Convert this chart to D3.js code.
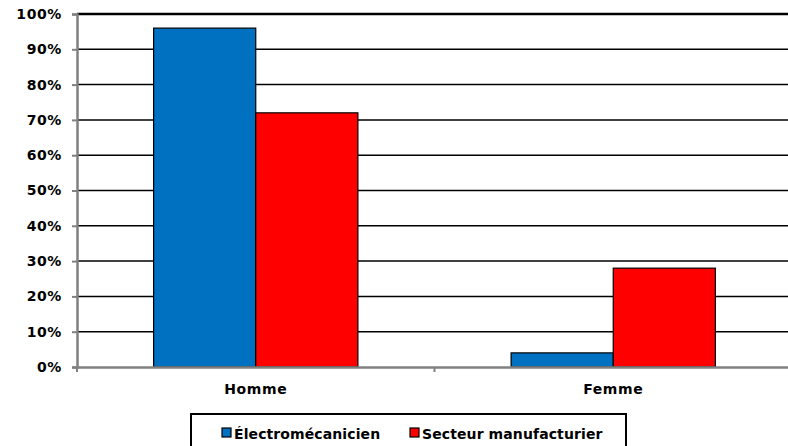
<!DOCTYPE html>
<html>
<head>
<meta charset="utf-8">
<script src="https://cdn.jsdelivr.net/npm/d3@7"></script>
<style>
  body { margin: 0; background: #fff; }
  text { font-family: "DejaVu Sans", Verdana, sans-serif; font-weight: bold; fill: #000; }
</style>
</head>
<body>
<svg id="chart" width="788" height="446"></svg>
<script>
// data
const categories = ["Homme", "Femme"];
const seriesNames = ["Électromécanicien", "Secteur manufacturier"];
const electromecanicien = [0.96, 0.04];
const secteurManufacturier = [0.72, 0.28];
const yTicks = [0, 0.1, 0.2, 0.3, 0.4, 0.5, 0.6, 0.7, 0.8, 0.9, 1.0];
const colors = ["#0070c0", "#ff0000"];

const svg = d3.select("#chart");
const margin = { top: 14, left: 77, right: -4, bottom: 79 };
const width = 788, height = 446;

const x = d3.scaleBand().domain(categories)
  .range([margin.left, width - margin.right]).paddingInner(0).paddingOuter(0);
const xs = d3.scaleBand().domain(seriesNames)
  .range([0, x.bandwidth()]).paddingInner(0).paddingOuter(0.75);
const y = d3.scaleLinear().domain([0, 1]).range([height - margin.bottom, margin.top]);

// gridlines
svg.append("g").selectAll("line")
  .data(yTicks.filter(d => d > 0))
  .enter().append("line")
  .attr("x1", margin.left).attr("x2", width)
  .attr("y1", d => y(d)).attr("y2", d => y(d))
  .attr("stroke", "#000")
  .attr("stroke-width", d => d === 1 ? 2.5 : 1.5);

// bars
const rows = categories.map((c, i) => ({
  cat: c,
  vals: [electromecanicien[i], secteurManufacturier[i]]
}));
const grp = svg.append("g").selectAll("g")
  .data(rows).enter().append("g")
  .attr("transform", d => `translate(${x(d.cat)},0)`);
grp.selectAll("rect")
  .data(d => d.vals.map((v, j) => ({ name: seriesNames[j], v, j })))
  .enter().append("rect")
  .attr("x", d => xs(d.name))
  .attr("width", xs.bandwidth())
  .attr("y", d => y(d.v))
  .attr("height", d => y(0) - y(d.v))
  .attr("fill", d => colors[d.j])
  .attr("stroke", "#000")
  .attr("stroke-width", 1.2);

// y axis
const yAxis = svg.append("g")
  .attr("transform", `translate(${margin.left},0)`)
  .call(d3.axisLeft(y).tickValues(yTicks).tickFormat(d3.format(".0%")).tickSize(5).tickPadding(10));
yAxis.select(".domain").attr("stroke", "#808080").attr("stroke-width", 2.5);
yAxis.selectAll(".tick line").attr("stroke", "#808080").attr("stroke-width", 2);
yAxis.selectAll("text").style("font-size", "14px").style("letter-spacing", "0.6px").attr("fill", "#000");

// x axis
const xAxis = svg.append("g")
  .attr("transform", `translate(0,${y(0)})`)
  .call(d3.axisBottom(x).tickSize(0).tickPadding(17));
xAxis.select(".domain").attr("stroke", "#808080").attr("stroke-width", 2.5);
xAxis.selectAll("text").style("font-size", "14px").style("letter-spacing", "0.6px").attr("fill", "#000");
// category boundary ticks
svg.append("g").selectAll("line")
  .data([margin.left, x("Femme")])
  .enter().append("line")
  .attr("x1", d => d).attr("x2", d => d)
  .attr("y1", y(0)).attr("y2", y(0) + 5)
  .attr("stroke", "#808080").attr("stroke-width", 2);

// legend
const legend = svg.append("g").attr("transform", "translate(191,414)");
legend.append("rect")
  .attr("width", 435).attr("height", 40)
  .attr("fill", "#fff").attr("stroke", "#000").attr("stroke-width", 2);
const legendX = [31, 219];
const items = legend.selectAll("g.item")
  .data(seriesNames).enter().append("g")
  .attr("class", "item")
  .attr("transform", (d, i) => `translate(${legendX[i]},14)`);
items.append("rect")
  .attr("width", 9).attr("height", 9)
  .attr("fill", (d, i) => colors[i])
  .attr("stroke", "#000").attr("stroke-width", 1.2);
items.append("text")
  .attr("x", 12).attr("y", 10.5)
  .style("font-size", "14px")
  .style("letter-spacing", "0.1px")
  .text(d => d);
</script>
</body>
</html>
